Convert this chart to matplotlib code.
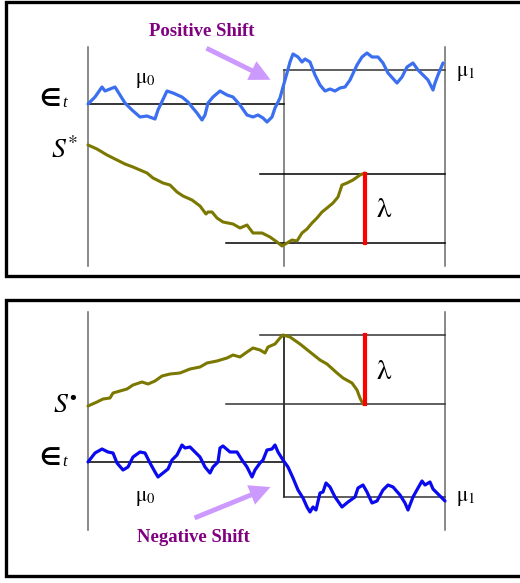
import matplotlib
matplotlib.use("Agg")
import matplotlib.pyplot as plt

plt.rcParams['mathtext.fontset'] = 'stix'

# --- curve traces (diagram units: x to the right, y downward) ---
# top panel, blue process (positive shift at t = 284)
top_eps_x = [88, 95, 102, 105, 110, 115, 120, 125, 132, 140, 147, 155, 158, 167, 173, 182, 188, 192,
             197, 202, 205, 208, 213, 220, 227, 233, 240, 247, 253, 258, 263, 267, 272, 275, 280, 283,
             287, 290, 293, 298, 302, 305, 310, 315, 320, 325, 330, 335, 340, 345, 350, 357, 362, 367,
             372, 378, 383, 388, 397, 402, 407, 413, 418, 423, 428, 433, 435, 438, 443]
top_eps_y = [104, 97, 87, 91, 89, 87, 95, 103, 110, 117, 116, 119, 110, 91, 93, 97, 102, 107,
             113, 120, 115, 103, 97, 91, 95, 97, 105, 115, 117, 115, 118, 122, 117, 108, 98, 87,
             73, 62, 54, 57, 62, 59, 62, 75, 85, 91, 89, 91, 88, 87, 80, 65, 57, 53,
             57, 57, 63, 73, 83, 77, 67, 63, 70, 75, 80, 90, 83, 75, 63]

# top panel, olive CUSUM statistic S*
top_s_x = [88, 97, 107, 117, 125, 133, 140, 147, 153, 163, 170, 177, 183, 192, 200, 203, 206, 208,
           212, 217, 223, 233, 240, 247, 253, 262, 270, 277, 282, 287, 292, 297, 302, 307, 312,
           317, 322, 327, 333, 338, 342, 347, 353, 360, 365]
top_s_y = [145, 149, 155, 160, 164, 167, 170, 173, 178, 183, 185, 192, 196, 200, 206, 210, 214, 212,
           212, 218, 222, 224, 228, 225, 233, 233, 237, 242, 246, 243, 240, 241, 233, 229, 223,
           218, 212, 208, 203, 197, 185, 183, 180, 175, 173]

# bottom panel, olive statistic S
bot_s_x = [88, 97, 103, 110, 113, 120, 127, 133, 142, 148, 155, 162, 170, 180, 190, 200, 207, 217,
           227, 233, 240, 247, 253, 260, 265, 268, 275, 280, 283, 290, 300, 310, 320, 327, 337,
           343, 352, 357, 360, 363]
bot_s_y = [406, 402, 399, 398, 393, 391, 389, 385, 382, 384, 381, 376, 374, 373, 369, 367, 363, 361,
           358, 355, 357, 352, 348, 350, 353, 347, 344, 338, 335, 337, 344, 352, 360, 364, 373,
           378, 383, 390, 398, 404]

# bottom panel, blue process (negative shift at t = 284)
bot_eps_x = [88, 95, 102, 108, 113, 117, 123, 128, 133, 140, 145, 150, 155, 158, 163, 168, 172, 177,
             182, 185, 190, 195, 200, 205, 210, 213, 218, 220, 223, 230, 237, 242, 247, 252, 255,
             260, 263, 267, 272, 275, 278, 283, 288, 293, 298, 303, 307, 310, 313, 316, 320, 323,
             326, 330, 335, 342, 348, 355, 358, 363, 367, 372, 377, 383, 388, 393, 400, 405, 408,
             413, 418, 422, 425, 430, 433, 438, 445]
bot_eps_y = [462, 453, 449, 452, 453, 463, 470, 467, 457, 452, 453, 463, 472, 477, 473, 469, 460, 455,
             445, 448, 447, 452, 457, 467, 473, 467, 462, 448, 446, 452, 452, 460, 467, 477, 470,
             463, 460, 450, 449, 445, 452, 460, 467, 478, 490, 498, 507, 512, 507, 510, 493, 492,
             483, 487, 497, 507, 502, 497, 488, 485, 492, 503, 501, 490, 485, 487, 495, 503, 510,
             497, 488, 481, 485, 482, 489, 494, 501]

# reference levels
t_start, t_shift, t_end = 88, 284, 445
top_mu0, top_mu1, top_lam_hi, top_lam_lo = 104, 70, 174, 243
bot_mu0, bot_mu1, bot_lam_hi, bot_lam_lo = 462, 497, 335, 404
lam_x = 365

blue_top = '#3b6ff0'
blue_bot = '#0a0af0'
olive = '#7b7800'
grey = '#6a6a6a'
arrow_col = '#cc99ff'
purple = '#800080'

fig = plt.figure(figsize=(5.2, 5.83), dpi=100)
ax = fig.add_axes([0, 0, 1, 1])
ax.set_xlim(0, 520)
ax.set_ylim(583, 0)
ax.axis('off')

# panel frames (open on the right)
for top, bottom in [(2, 276), (300, 576)]:
    ax.plot([530, 6, 6, 530], [top, top, bottom, bottom], color='black', lw=2.4,
            solid_joinstyle='miter')

lw_ax = 1.1
arrow_style = 'simple,head_length=1.5,head_width=1.5,tail_width=0.35'

# ---- top panel ----
ax.plot([t_start, t_start], [47, 266], color=grey, lw=lw_ax)
ax.plot([t_shift, t_shift], [top_mu1, 266], color=grey, lw=lw_ax)
ax.plot([t_end, t_end], [47, 266], color=grey, lw=lw_ax)
ax.plot([t_start, t_shift], [top_mu0, top_mu0], color='black', lw=lw_ax)
ax.plot([t_shift, t_end], [top_mu1, top_mu1], color='#333333', lw=lw_ax)
ax.plot([260, t_end], [top_lam_hi, top_lam_hi], color='black', lw=lw_ax)
ax.plot([226, t_end], [top_lam_lo, top_lam_lo], color='black', lw=lw_ax)
ax.plot(top_eps_x, top_eps_y, color=blue_top, lw=2.3, solid_capstyle='round')
ax.plot(top_s_x, top_s_y, color=olive, lw=2.2, solid_capstyle='round')
ax.plot([lam_x, lam_x], [top_lam_hi, top_lam_lo], color='#ff0000', lw=3.0)

ax.text(202, 32, 'Positive Shift', color=purple, fontsize=13.5, fontweight='bold',
        family='Liberation Serif', ha='center', va='center')
ax.annotate('', xy=(273, 81), xytext=(204, 47),
            arrowprops=dict(arrowstyle=arrow_style, color=arrow_col, lw=0))
ax.text(145, 80, r'$\mathrm{\mu}_0$', fontsize=15, ha='center', va='center')
ax.text(466, 73, r'$\mathrm{\mu}_1$', fontsize=15, ha='center', va='center')
ax.text(50, 99, '∈', fontsize=17, fontweight='bold', family='DejaVu Sans', ha='center', va='center')
ax.text(65, 103, 't', fontsize=12, family='Liberation Serif', style='italic', ha='center', va='center')
ax.text(65, 150, r'$S^{*}$', fontsize=20, ha='center', va='center')
ax.text(384, 209, r'$\mathrm{\lambda}$', fontsize=21, ha='center', va='center')

# ---- bottom panel ----
ax.plot([t_start, t_start], [312, 530], color=grey, lw=lw_ax)
ax.plot([t_shift, t_shift], [bot_lam_hi, bot_mu1], color='black', lw=lw_ax)
ax.plot([t_end, t_end], [312, 530], color=grey, lw=lw_ax)
ax.plot([260, t_end], [bot_lam_hi, bot_lam_hi], color='#333333', lw=lw_ax)
ax.plot([226, t_end], [bot_lam_lo, bot_lam_lo], color='#333333', lw=lw_ax)
ax.plot([t_start, t_shift], [bot_mu0, bot_mu0], color='black', lw=lw_ax)
ax.plot([t_shift, t_end], [bot_mu1, bot_mu1], color='#333333', lw=lw_ax)
ax.plot(bot_s_x, bot_s_y, color=olive, lw=2.2, solid_capstyle='round')
ax.plot(bot_eps_x, bot_eps_y, color=blue_bot, lw=2.3, solid_capstyle='round')
ax.plot([lam_x, lam_x], [bot_lam_hi, bot_lam_lo], color='#ff0000', lw=3.0)

ax.text(193, 538, 'Negative Shift', color=purple, fontsize=13.5, fontweight='bold',
        family='Liberation Serif', ha='center', va='center')
ax.annotate('', xy=(273, 486), xytext=(192, 519),
            arrowprops=dict(arrowstyle=arrow_style, color=arrow_col, lw=0))
ax.text(145, 498, r'$\mathrm{\mu}_0$', fontsize=15, ha='center', va='center')
ax.text(466, 498, r'$\mathrm{\mu}_1$', fontsize=15, ha='center', va='center')
ax.text(50, 458, '∈', fontsize=17, fontweight='bold', family='DejaVu Sans', ha='center', va='center')
ax.text(65, 462, 't', fontsize=12, family='Liberation Serif', style='italic', ha='center', va='center')
ax.text(65, 404, r'$S^{\bullet}$', fontsize=20, ha='center', va='center')
ax.text(384, 371, r'$\mathrm{\lambda}$', fontsize=21, ha='center', va='center')

fig.savefig('out.png', dpi=100)
